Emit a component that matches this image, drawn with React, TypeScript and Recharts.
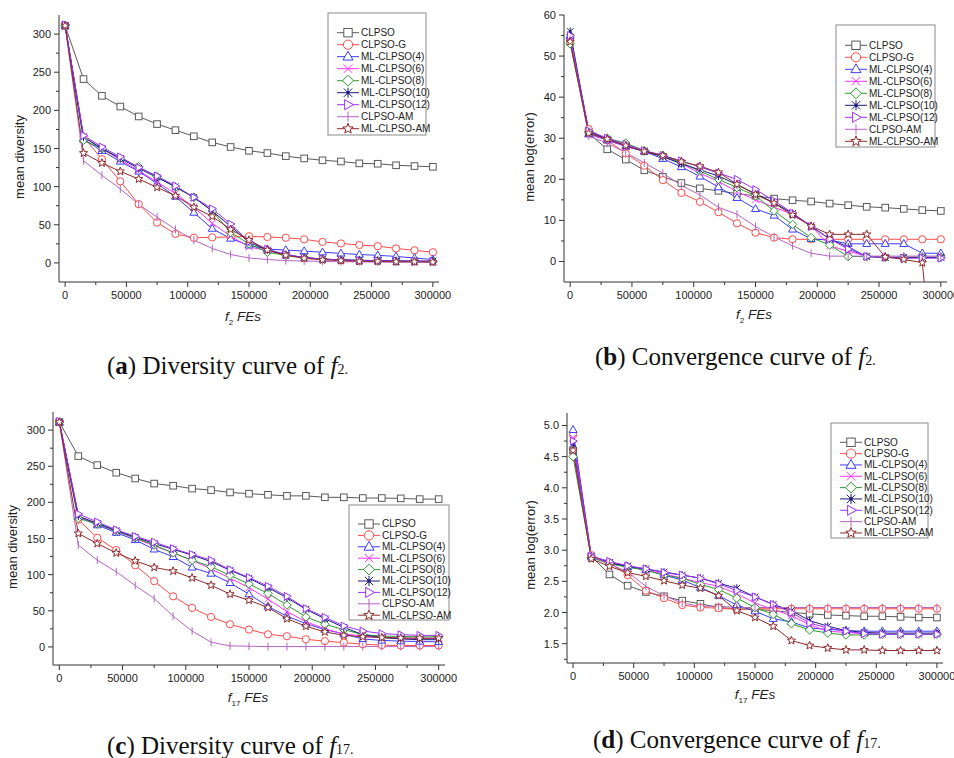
import { Line, LineChart, XAxis, YAxis } from "recharts";

// function evaluations (x axis)
const fes = [
	0, 15000, 30000, 45000, 60000, 75000, 90000, 105000, 120000, 135000, 150000,
	165000, 180000, 195000, 210000, 225000, 240000, 255000, 270000, 285000, 300000,
];

// (a) diversity of f2
const f2DivClpso = [311, 241, 219, 205, 192, 182, 174, 166, 158, 152, 147, 144, 140, 137, 134.5, 133, 130.5, 130, 128, 127, 126];
const f2DivClpsoG = [311, 165, 136, 107, 77, 53, 38, 33, 33.5, 34, 35, 34, 33, 31, 27.5, 25.5, 23.5, 22, 19, 16.5, 14];
const f2DivMl4 = [311, 162, 147, 133, 120, 104, 87, 66, 45, 32, 23, 18, 17, 15.5, 14, 12.5, 11, 10, 8.5, 6.5, 4.5];
const f2DivMl6 = [311, 165, 150, 135, 121, 106, 91, 73, 52, 35, 21, 16, 10, 7, 5, 4, 3, 3, 2.5, 2, 2];
const f2DivMl8 = [311, 161, 150, 137, 126, 113, 99, 86, 68, 40, 25, 14, 10, 7, 5, 4, 3, 3, 2.5, 2, 2];
const f2DivMl10 = [311, 165, 150, 137, 124, 112, 100, 86, 68, 48, 27, 17, 11, 7, 5, 4, 3.5, 3, 2.5, 2.5, 2.5];
const f2DivMl12 = [312, 167, 152, 139, 125, 114, 101, 86, 71, 51, 28, 18, 11, 7, 5, 4, 3, 3, 2.5, 2, 2];
const f2DivClpsoAm = [311, 134, 115, 97, 77, 60, 44, 30, 19, 11, 6.5, 4.5, 3, 2.5, 2, 1.5, 1.5, 1, 1, 1, 1];
const f2DivMlAm = [311, 144, 131, 120, 110, 99, 88, 73, 61, 44, 30, 17, 10, 6, 4, 3, 2, 2, 1.5, 1.5, 1];

// (b) mean log(error) of f2
const f2ErrClpso = [53.5, 31.2, 27.3, 24.8, 22.2, 20.6, 19.1, 17.8, 17.2, 16.5, 16, 15.3, 14.9, 14.6, 14.1, 13.7, 13.3, 13.1, 12.8, 12.5, 12.3];
const f2ErrClpsoG = [53.5, 32.2, 29.5, 26.3, 23.3, 19.8, 16.7, 14.5, 12, 9.3, 7, 5.8, 5.4, 5.4, 5.4, 5.4, 5.4, 5.4, 5.4, 5.4, 5.4];
const f2ErrMl4 = [55, 31, 29.5, 28, 26.8, 25, 23, 20.7, 18.1, 15.5, 12.8, 11.2, 7.8, 5.5, 5.2, 4.3, 4.3, 4.3, 4.3, 2, 2];
const f2ErrMl6 = [54.5, 31, 29.7, 28, 27, 25.5, 23.8, 21.5, 19.5, 17, 15, 13.2, 11.5, 8.7, 3.8, 2.5, 1.3, 1, 1, 1, 1];
const f2ErrMl8 = [53, 31.5, 30, 28.8, 27, 25.8, 24, 22, 20, 18, 16, 12.3, 9, 5.8, 4, 1.2, 1.2, 1, 1, 1, 1];
const f2ErrMl10 = [56, 31.5, 29.8, 28.2, 26.8, 25.5, 23.8, 22.3, 20.8, 18.7, 16.5, 14.3, 11.7, 8.6, 5.5, 3.5, 1.2, 1, 1, 1, 1];
const f2ErrMl12 = [55, 31.8, 30, 28.5, 27, 25.8, 24.5, 23, 21.5, 20, 17.5, 14.8, 11.8, 8.5, 5.5, 3, 1.2, 1, 0.8, 0.8, 0.8];
const f2ErrClpsoAm = [54, 30.5, 28.8, 26.5, 24, 21.5, 18.5, 16.2, 13.2, 11.5, 8.5, 6, 3.8, 2, 1.3, 1.3, 1.3, 1.3, 1.3, 1.3, 1.3];
const f2ErrMlAm = [53.5, 31.2, 29.8, 28.2, 26.8, 25.8, 24.3, 23.2, 21.7, 18.8, 16.3, 14.2, 11.3, 8.6, 6.6, 6.6, 6.6, 1.1, 0.5, -0.3, -45];

// (c) diversity of f17
const f17DivClpso = [311, 264, 251.5, 241, 233, 226, 223, 219, 217, 213.7, 212, 210.5, 209, 209, 207, 207, 206, 206, 205.5, 204.5, 204.5];
const f17DivClpsoG = [311, 176, 151, 134, 113, 91, 70, 54, 41.5, 31.4, 24, 17.5, 14.8, 10.6, 8, 6, 3.7, 2.5, 2, 2, 2];
const f17DivMl4 = [311, 180, 168.5, 158, 148, 135, 124.6, 110, 101.5, 88.6, 73, 56, 42.5, 32.3, 24, 18, 11, 9, 8, 7.5, 7];
const f17DivMl6 = [311, 180, 170, 160, 150, 140, 130, 120, 108, 95, 82, 66, 49, 35, 25, 18, 15, 13, 12, 12, 12];
const f17DivMl8 = [311, 178, 170, 160, 151, 141, 130, 120, 111, 99, 87, 74, 58, 41.5, 31.4, 24, 17, 15, 14.5, 14, 14];
const f17DivMl10 = [311, 181, 171, 161, 152, 143, 135, 127, 118, 106, 95, 82, 68, 52, 39, 27, 17, 13, 11, 10, 10];
const f17DivMl12 = [312, 184, 173, 162, 153, 145, 136, 128, 120, 107, 96, 84, 70, 53, 41, 29, 22, 18.5, 17, 16, 16];
const f17DivClpsoAm = [311, 141, 120, 104, 85, 67, 42.5, 22, 6.5, 1.4, 1, 0.5, 0.5, 0.5, 0.5, 0.5, 0.5, 0.5, 0.5, 0.5, 0.5];
const f17DivMlAm = [311, 157, 143, 130, 119, 110, 105, 95.5, 85.4, 73, 64.6, 54.5, 39, 28.6, 20.8, 16, 14, 13, 12.5, 12, 12];

// (d) mean log(error) of f17
const f17ErrClpso = [4.6, 2.9, 2.61, 2.43, 2.33, 2.26, 2.19, 2.14, 2.08, 2.06, 2.05, 2.03, 2.0, 1.98, 1.96, 1.95, 1.94, 1.94, 1.93, 1.92, 1.92];
const f17ErrClpsoG = [4.85, 2.92, 2.8, 2.6, 2.35, 2.23, 2.12, 2.08, 2.07, 2.05, 2.06, 2.06, 2.06, 2.06, 2.06, 2.06, 2.06, 2.06, 2.06, 2.06, 2.06];
const f17ErrMl4 = [4.93, 2.9, 2.8, 2.73, 2.68, 2.6, 2.52, 2.4, 2.27, 2.12, 2.02, 1.9, 1.85, 1.75, 1.73, 1.71, 1.7, 1.7, 1.7, 1.7, 1.7];
const f17ErrMl6 = [4.8, 2.88, 2.8, 2.75, 2.68, 2.62, 2.55, 2.48, 2.42, 2.3, 2.15, 2.05, 1.95, 1.8, 1.7, 1.68, 1.66, 1.65, 1.65, 1.65, 1.65];
const f17ErrMl8 = [4.5, 2.88, 2.78, 2.73, 2.68, 2.6, 2.55, 2.45, 2.37, 2.23, 2.08, 1.97, 1.82, 1.72, 1.67, 1.64, 1.64, 1.65, 1.65, 1.65, 1.65];
const f17ErrMl10 = [4.7, 2.9, 2.8, 2.74, 2.7, 2.65, 2.6, 2.55, 2.47, 2.39, 2.25, 2.13, 2.03, 1.87, 1.78, 1.71, 1.68, 1.67, 1.67, 1.67, 1.67];
const f17ErrMl12 = [4.75, 2.9, 2.82, 2.75, 2.7, 2.64, 2.6, 2.55, 2.46, 2.35, 2.25, 2.13, 2.0, 1.83, 1.75, 1.7, 1.66, 1.65, 1.65, 1.65, 1.65];
const f17ErrClpsoAm = [4.6, 2.9, 2.78, 2.65, 2.42, 2.27, 2.15, 2.1, 2.1, 2.08, 2.08, 2.08, 2.08, 2.08, 2.08, 2.08, 2.08, 2.08, 2.08, 2.08, 2.08];
const f17ErrMlAm = [4.6, 2.86, 2.74, 2.64, 2.58, 2.51, 2.44, 2.39, 2.27, 2.03, 1.92, 1.78, 1.55, 1.47, 1.43, 1.4, 1.4, 1.39, 1.39, 1.39, 1.39];

// tick values
const xTicks = [0, 25000, 50000, 75000, 100000, 125000, 150000, 175000, 200000, 225000, 250000, 275000, 300000];
const divTicks = [0, 25, 50, 75, 100, 125, 150, 175, 200, 225, 250, 275, 300];
const f2ErrTicks = [0, 5, 10, 15, 20, 25, 30, 35, 40, 45, 50, 55, 60];
const f17ErrTicks = [1.25, 1.5, 1.75, 2.0, 2.25, 2.5, 2.75, 3.0, 3.25, 3.5, 3.75, 4.0, 4.25, 4.5, 4.75, 5.0];

const seriesNames = [
	"CLPSO",
	"CLPSO-G",
	"ML-CLPSO(4)",
	"ML-CLPSO(6)",
	"ML-CLPSO(8)",
	"ML-CLPSO(10)",
	"ML-CLPSO(12)",
	"CLPSO-AM",
	"ML-CLPSO-AM",
];

const seriesStyle = [
	{ color: "#5a5a5a", shape: "square" },
	{ color: "#ff4a4a", shape: "circle" },
	{ color: "#3b3bff", shape: "triangle" },
	{ color: "#ff33ff", shape: "cross" },
	{ color: "#2f9a2f", shape: "diamond" },
	{ color: "#1c1c7a", shape: "asterisk" },
	{ color: "#9b30ff", shape: "triRight" },
	{ color: "#b565c4", shape: "bar" },
	{ color: "#8e2b2b", shape: "star" },
];

const FONT = '"Liberation Sans", Arial, sans-serif';

function buildRows(series: number[][]) {
	return fes.map((x, i) => {
		const row: Record<string, number> = { x };
		series.forEach((s, k) => {
			row[`s${k}`] = s[i];
		});
		return row;
	});
}

function Marker({ shape, cx, cy, color, r }: any) {
	const common = { stroke: color, strokeWidth: 1, fill: "#fff" };
	switch (shape) {
		case "square":
			return <rect x={cx - r} y={cy - r} width={2 * r} height={2 * r} {...common} />;
		case "circle":
			return <circle cx={cx} cy={cy} r={r * 1.1} {...common} />;
		case "triangle":
			return (
				<polygon
					points={`${cx},${cy - r * 1.3} ${cx - r * 1.2},${cy + r * 0.8} ${cx + r * 1.2},${cy + r * 0.8}`}
					{...common}
				/>
			);
		case "triRight":
			return (
				<polygon
					points={`${cx + r * 1.3},${cy} ${cx - r * 0.8},${cy - r * 1.2} ${cx - r * 0.8},${cy + r * 1.2}`}
					{...common}
				/>
			);
		case "diamond":
			return (
				<polygon
					points={`${cx},${cy - r * 1.3} ${cx + r * 1.3},${cy} ${cx},${cy + r * 1.3} ${cx - r * 1.3},${cy}`}
					{...common}
				/>
			);
		case "cross":
			return (
				<g stroke={color}>
					<line x1={cx - r} y1={cy - r} x2={cx + r} y2={cy + r} />
					<line x1={cx - r} y1={cy + r} x2={cx + r} y2={cy - r} />
				</g>
			);
		case "asterisk":
			return (
				<g stroke={color}>
					<line x1={cx} y1={cy - r * 1.2} x2={cx} y2={cy + r * 1.2} />
					<line x1={cx - r} y1={cy - r} x2={cx + r} y2={cy + r} />
					<line x1={cx - r} y1={cy + r} x2={cx + r} y2={cy - r} />
					<circle cx={cx} cy={cy} r={r * 0.3} fill={color} />
				</g>
			);
		case "bar":
			return <line x1={cx} y1={cy - r * 1.2} x2={cx} y2={cy + r * 1.2} stroke={color} />;
		case "star": {
			const pts: string[] = [];
			for (let k = 0; k < 10; k++) {
				const rad = k % 2 === 0 ? r * 1.3 : r * 0.55;
				const a = -Math.PI / 2 + (k * Math.PI) / 5;
				pts.push(`${cx + rad * Math.cos(a)},${cy + rad * Math.sin(a)}`);
			}
			return <polygon points={pts.join(" ")} {...common} />;
		}
		default:
			return null;
	}
}

const XTick = (props: any) => {
	const { x, y, payload } = props;
	const v = payload.value;
	const major = v % 50000 === 0;
	return (
		<g>
			<line x1={x} x2={x} y1={y} y2={y + (major ? 5 : 3)} stroke="#333" />
			{major && (
				<text x={x} y={y + 17} textAnchor="middle" fontSize={11} fill="#222" fontFamily={FONT}>
					{v}
				</text>
			)}
		</g>
	);
};

function makeYTick(isMajor: (v: number) => boolean, fmt: (v: number) => string) {
	return (props: any) => {
		const { x, y, payload } = props;
		const v = payload.value;
		const major = isMajor(v);
		return (
			<g>
				<line x1={x - (major ? 5 : 3)} x2={x} y1={y} y2={y} stroke="#333" />
				{major && (
					<text x={x - 8} y={y + 4} textAnchor="end" fontSize={11} fill="#222" fontFamily={FONT}>
						{fmt(v)}
					</text>
				)}
			</g>
		);
	};
}

function LegendBox({ box }: any) {
	const { x, y, w, h, first, gap } = box;
	return (
		<g fontFamily={FONT}>
			<rect x={x} y={y} width={w} height={h} fill="#fff" stroke="#8a8a8a" />
			{seriesNames.map((name, i) => {
				const cy = y + first + i * gap;
				const st = seriesStyle[i];
				return (
					<g key={name}>
						<line x1={x + 9} x2={x + 31} y1={cy} y2={cy} stroke={st.color} />
						<Marker shape={st.shape} cx={x + 20} cy={cy} color={st.color} r={4.2} />
						<text x={x + 33} y={cy + 3.4} fontSize={10} fill="#222">
							{name}
						</text>
					</g>
				);
			})}
		</g>
	);
}

function Panel({ cfg }: any) {
	const rows = buildRows(cfg.series);
	return (
		<div style={{ position: "absolute", left: cfg.left, top: cfg.top, width: 477, height: 330 }}>
			<LineChart
				width={477}
				height={330}
				data={rows}
				margin={{ top: cfg.mTop, right: cfg.mRight, bottom: 0, left: 0 }}
			>
				<XAxis
					dataKey="x"
					type="number"
					domain={[-5000, 305000]}
					allowDataOverflow
					ticks={xTicks}
					interval={0}
					height={cfg.xHeight}
					tickSize={0}
					tickMargin={0}
					tickLine={false}
					tick={XTick}
					axisLine={{ stroke: "#333" }}
				/>
				<YAxis
					type="number"
					domain={cfg.yDomain}
					allowDataOverflow
					ticks={cfg.yTicks}
					interval={0}
					width={cfg.yWidth}
					tickSize={0}
					tickMargin={0}
					tickLine={false}
					tick={makeYTick(cfg.isMajor, cfg.fmt)}
					axisLine={{ stroke: "#333" }}
				/>
				{seriesStyle.map((st, k) => (
					<Line
						key={seriesNames[k]}
						type="linear"
						dataKey={`s${k}`}
						name={seriesNames[k]}
						stroke={st.color}
						strokeWidth={1}
						isAnimationActive={false}
						activeDot={false}
						dot={(p: any) =>
							p.cx == null || p.cy == null ? (
								<g key={p.index} />
							) : (
								<Marker key={p.index} shape={st.shape} cx={p.cx} cy={p.cy} color={st.color} r={3.3} />
							)
						}
					/>
				))}
			</LineChart>
			<svg
				width={477}
				height={330}
				style={{ position: "absolute", left: 0, top: 0, pointerEvents: "none" }}
			>
				<text
					transform={`translate(${cfg.yLab[0]},${cfg.yLab[1]}) rotate(-90)`}
					textAnchor="middle"
					dominantBaseline="central"
					fontSize={13}
					fill="#222"
					fontFamily={FONT}
				>
					{cfg.yTitle}
				</text>
				<text
					x={cfg.xLab[0]}
					y={cfg.xLab[1]}
					textAnchor="middle"
					fontSize={13.5}
					fill="#222"
					fontFamily={FONT}
					fontStyle="italic"
				>
					<tspan>f</tspan>
					<tspan fontSize={8} dy={4} fontStyle="normal">
						{cfg.sub}
					</tspan>
					<tspan dy={-4}> FEs</tspan>
				</text>
				<LegendBox box={cfg.legend} />
			</svg>
		</div>
	);
}

function Caption({ left, top, letter, text, sub }: any) {
	return (
		<div
			style={{
				position: "absolute",
				left,
				top,
				fontFamily: '"Liberation Serif", "DejaVu Serif", serif',
				fontSize: 25,
				lineHeight: "28px",
				whiteSpace: "nowrap",
				color: "#111",
			}}
		>
			(<b>{letter}</b>) {text} of <i>f</i>
			<span style={{ fontSize: 14 }}>{sub}.</span>
		</div>
	);
}

const divMajor = (v: number) => v % 50 === 0;
const intFmt = (v: number) => String(v);

const panels = [
	{
		left: 0,
		top: 0,
		mTop: 15,
		mRight: 38,
		yWidth: 59,
		xHeight: 48,
		yDomain: [-25, 325],
		yTicks: divTicks,
		isMajor: divMajor,
		fmt: intFmt,
		series: [f2DivClpso, f2DivClpsoG, f2DivMl4, f2DivMl6, f2DivMl8, f2DivMl10, f2DivMl12, f2DivClpsoAm, f2DivMlAm],
		yTitle: "mean diversity",
		yLab: [19, 157],
		xLab: [243, 321],
		sub: "2",
		legend: { x: 328, y: 13, w: 98, h: 122, first: 19.7, gap: 12 },
	},
	{
		left: 477,
		top: 0,
		mTop: 15,
		mRight: 7,
		yWidth: 87,
		xHeight: 48,
		yDomain: [-5, 60],
		yTicks: f2ErrTicks,
		isMajor: (v: number) => v % 10 === 0,
		fmt: intFmt,
		series: [f2ErrClpso, f2ErrClpsoG, f2ErrMl4, f2ErrMl6, f2ErrMl8, f2ErrMl10, f2ErrMl12, f2ErrClpsoAm, f2ErrMlAm],
		yTitle: "mean log(error)",
		yLab: [52, 157],
		xLab: [277, 319],
		sub: "2",
		legend: { x: 359, y: 25, w: 99, h: 122, first: 20.3, gap: 12 },
	},
	{
		left: 0,
		top: 380,
		mTop: 32,
		mRight: 32,
		yWidth: 53,
		xHeight: 45,
		yDomain: [-25, 325],
		yTicks: divTicks,
		isMajor: divMajor,
		fmt: intFmt,
		series: [f17DivClpso, f17DivClpsoG, f17DivMl4, f17DivMl6, f17DivMl8, f17DivMl10, f17DivMl12, f17DivClpsoAm, f17DivMlAm],
		yTitle: "mean diversity",
		yLab: [12, 167],
		xLab: [248, 322],
		sub: "17",
		legend: { x: 349, y: 125, w: 100, h: 115, first: 19, gap: 11.4 },
	},
	{
		left: 477,
		top: 380,
		mTop: 33,
		mRight: 11,
		yWidth: 90,
		xHeight: 47,
		yDomain: [1.19, 5.2],
		yTicks: f17ErrTicks,
		isMajor: (v: number) => Math.abs(v * 2 - Math.round(v * 2)) < 1e-6,
		fmt: (v: number) => v.toFixed(1),
		series: [f17ErrClpso, f17ErrClpsoG, f17ErrMl4, f17ErrMl6, f17ErrMl8, f17ErrMl10, f17ErrMl12, f17ErrClpsoAm, f17ErrMlAm],
		yTitle: "mean log(error)",
		yLab: [53, 165],
		xLab: [278, 319],
		sub: "17",
		legend: { x: 354, y: 43, w: 97, h: 115, first: 19.3, gap: 11.33 },
	},
];

export default function App() {
	return (
		<div
			style={{
				position: "absolute",
				left: 0,
				top: 0,
				width: 954,
				height: 758,
				background: "#fff",
				overflow: "hidden",
			}}
		>
			{panels.map((cfg, i) => (
				<Panel key={i} cfg={cfg} />
			))}
			<Caption left={107} top={352} letter="a" text="Diversity curve" sub="2" />
			<Caption left={595} top={343} letter="b" text="Convergence curve" sub="2" />
			<Caption left={107} top={732} letter="c" text="Diversity curve" sub="17" />
			<Caption left={593} top={726} letter="d" text="Convergence curve" sub="17" />
		</div>
	);
}
